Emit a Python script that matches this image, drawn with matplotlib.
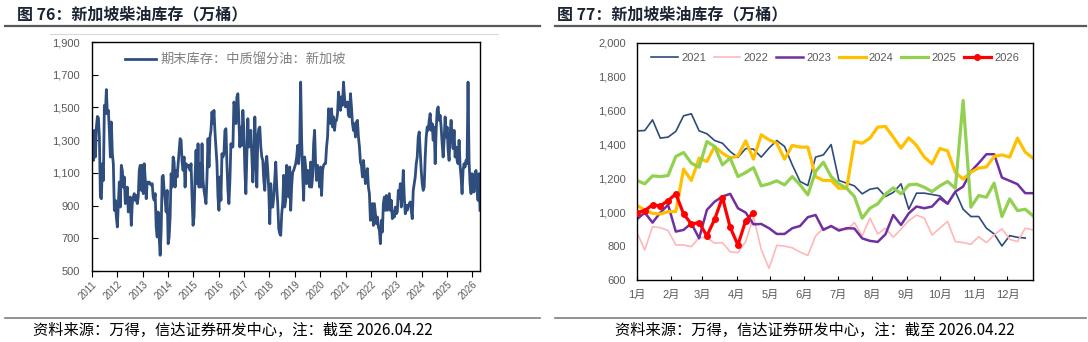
import numpy as np
import pandas as pd
import matplotlib
matplotlib.use('Agg')
import matplotlib.pyplot as plt
from matplotlib.lines import Line2D
import matplotlib.dates as mdates
from matplotlib.ticker import FuncFormatter

plt.rcParams['font.family'] = ['Liberation Sans', 'Noto Sans CJK SC', 'DejaVu Sans']

# ---- left chart: Singapore middle distillate stocks (biweekly samples)
sg_stock = [
    1299, 1176, 1360, 1197, 1380, 1445, 1437, 1319, 952, 942, 1156, 1054, 1513, 1462, 1609, 1462,
    1482, 1360, 1197, 1411, 1217, 1156, 871, 932, 830, 769, 912, 1044, 891, 1146, 1115, 1013,
    1075, 912, 952, 1013, 861, 932, 952, 779, 912, 952, 973, 932, 962, 912, 952, 1115,
    1146, 993, 1146, 973, 1156, 1064, 942, 1044, 1034, 1044, 1034, 1024, 1034, 952, 932, 973,
    769, 708, 861, 708, 596, 749, 1075, 1085, 993, 932, 861, 993, 667, 708, 830, 1095,
    1013, 1197, 1166, 1013, 1115, 1075, 1156, 1238, 1309, 1299, 1166, 1115, 1197, 1013, 1156, 1146,
    1136, 1146, 1115, 1156, 952, 779, 830, 1075, 1238, 1034, 1278, 1013, 1156, 1013, 1278, 1054,
    993, 952, 912, 1075, 1309, 1136, 1319, 1360, 1472, 1401, 1482, 1350, 1258, 1156, 952, 871,
    1075, 932, 1217, 1197, 1217, 1360, 1370, 1156, 993, 912, 1054, 1278, 1258, 1258, 1533, 1503,
    1401, 1564, 1584, 1421, 1258, 1380, 1268, 1482, 1360, 1115, 973, 1197, 1431, 1258, 1299, 1360,
    1197, 1044, 1156, 1442, 1238, 1013, 1319, 1370,
    1380, 1258, 1197, 1176, 1054, 993, 1156, 1201, 1115, 993, 789, 1034, 891, 891, 952, 1054,
    1166, 1013, 912, 759, 728, 718, 850, 912, 1085, 891, 932, 1146, 1003, 952, 1136, 871,
    1024, 1105, 1115, 1136, 1156, 1197, 1268, 1156, 1238, 1655, 1299, 1095, 932, 1197, 1136, 1034,
    1115, 1075, 1013, 1166, 1013, 1075, 1278, 1360, 1156, 1054, 1146, 1095, 1013, 1136, 962, 1115,
    1146, 1156, 1156, 1258, 1319, 1492, 1452, 1401, 1492, 1380, 1442, 1360, 1421, 1421, 1462, 1594,
    1543, 1482, 1564, 1513, 1655, 1564, 1503, 1523, 1533, 1452, 1442, 1584, 1503, 1401, 1360, 1401,
    1319, 1411, 1421, 1319, 1258, 1166, 1146, 1075, 1176, 1115, 1034, 1075, 1126, 1013, 973, 810,
    861, 912, 779, 912, 850, 789, 830, 769, 749, 667, 810, 738, 912, 952, 871, 962,
    871, 922, 973, 871, 932, 820, 861, 830, 891, 850, 861, 993, 942, 1034, 891, 973,
    1115, 952, 850, 901, 871, 901, 912, 922, 871, 820, 993, 1034, 1075, 1156, 1197, 1319,
    1350, 1238, 1115, 1034, 993, 1013, 1197, 1319, 1380, 1360, 1421, 1462, 1360, 1401, 1299, 1380,
    1156, 1360, 1482, 1503, 1421, 1452, 1380, 1278, 1197, 1299, 1442, 1319, 1380, 1238, 1176, 1340,
    1421, 1319, 1248, 1360, 1197, 1258, 1176, 1156, 1299, 1146, 1075, 973, 1115, 1156, 1136, 1176,
    1156, 1655, 1176, 1034, 973, 1095, 1044, 983, 1095, 1115, 1013, 932, 1095, 871,
]
sg_start, sg_end = '2011-01-07', '2026-04-22'
sg_label = '期末库存：中质馏分油：新加坡'

# ---- right chart: weekly stocks by year
s2021 = [1481, 1483, 1546, 1438, 1444, 1478, 1570, 1582, 1481, 1464, 1424, 1408, 1359, 1324, 1377, 1373,
         1326, 1379, 1424, 1389, 1280, 1182, 1158, 1326, 1339, 1400, 1188, 1172, 1156, 1109, 1136, 1144,
         1093, 1117, 1168, 1018, 1113, 1113, 1105, 1097, 1053, 1122, 1018, 975, 975, 906, 872, 801,
         862, 852, 848]
s2022 = [880, 777, 915, 909, 892, 807, 807, 797, 850, 852, 817, 821, 767, 762, 827, 975,
         780, 669, 805, 800, 790, 765, 745, 860, 905, 915, 905, 896, 939, 860, 966, 872,
         906, 852, 900, 951, 983, 966, 866, 906, 946, 827, 821, 811, 856, 821, 866, 902,
         840, 827, 906, 896]
s2023 = [959, 998, 939, 998, 1044, 886, 896, 935, 846, 1014, 1063, 1093, 1109, 1024, 998, 929,
         931, 906, 872, 872, 906, 919, 971, 984, 896, 919, 892, 906, 904, 846, 831, 825,
         870, 984, 925, 994, 1034, 1024, 1034, 1083, 1050, 1122, 1152, 1241, 1290, 1343, 1343, 1205,
         1186, 1166, 1113, 1113]
s2024 = [1040, 1014, 994, 990, 1004, 1004, 1255, 1188, 1320, 1300, 1389, 1349, 1320, 1333, 1422, 1314,
         1458, 1428, 1408, 1314, 1395, 1385, 1385, 1211, 1188, 1188, 1142, 1142, 1418, 1408, 1438, 1503,
         1507, 1444, 1379, 1440, 1395, 1326, 1286, 1377, 1363, 1235, 1196, 1237, 1261, 1268, 1330, 1339,
         1326, 1438, 1355, 1320]
s2025 = [1188, 1168, 1215, 1211, 1217, 1330, 1353, 1290, 1266, 1418, 1389, 1280, 1320, 1211, 1235, 1264,
         1156, 1168, 1186, 1162, 1211, 1162, 1103, 1241, 1296, 1211, 1168, 1142, 1093, 965, 1024, 1050,
         1107, 1144, 1109, 1162, 1166, 1148, 1122, 1156, 1182, 1142, 1661, 1030, 1099, 1089, 1172, 975,
         1079, 1010, 1018, 979]
s2026 = [998, 1010, 1044, 1038, 1069, 1109, 990, 931, 939, 860, 959, 1087, 911, 807, 951, 998]

years = ['2021', '2022', '2023', '2024', '2025', '2026']
series = [s2021, s2022, s2023, s2024, s2025, s2026]
colors = ['#2F4B7C', '#FFB7B7', '#7030A0', '#FFC000', '#92D050', '#FF0000']
widths = [1.2, 1.2, 1.8, 2.3, 2.3, 2.3]

month_labels = ['1月', '2月', '3月', '4月', '5月', '6月', '7月', '8月', '9月', '10月', '11月', '12月']
month_days = [0, 31, 59, 90, 120, 151, 181, 212, 243, 273, 304, 334]

W, H = 1088, 342
fig = plt.figure(figsize=(W / 100, H / 100), dpi=100)


def box(x0, y0, x1, y1):
    return [x0 / W, 1 - y1 / H, (x1 - x0) / W, (y1 - y0) / H]


def hline(x0, x1, y, color, lw):
    fig.add_artist(Line2D([x0 / W, x1 / W], [1 - y / H, 1 - y / H], color=color, lw=lw,
                          transform=fig.transFigure))


comma = FuncFormatter(lambda v, p: f'{int(v):,}')
tick_color = '#595959'

# titles, rules, source lines
title_kw = dict(fontsize=11.5, fontweight='bold', color='#1B2433', va='center', ha='left',
                family=['Noto Sans CJK SC', 'DejaVu Sans'])
fig.text(17 / W, 1 - 14 / H, '图 76：新加坡柴油库存（万桶）', **title_kw)
fig.text(557 / W, 1 - 14 / H, '图 77：新加坡柴油库存（万桶）', **title_kw)
hline(5, 540, 25.5, '#595959', 1.6)
hline(555, 1086, 25.5, '#595959', 1.6)
hline(50, 498, 34, '#D9D9D9', 0.8)
hline(5, 540, 318, '#7F7F7F', 1.2)
hline(555, 1086, 318, '#7F7F7F', 1.2)
src_kw = dict(fontsize=11, style='italic', color='#000000', va='center', ha='left',
              family=['Noto Sans CJK SC', 'DejaVu Sans'])
fig.text(33 / W, 1 - 330 / H, '资料来源：万得，信达证券研发中心，注：截至 2026.04.22', **src_kw)
fig.text(615 / W, 1 - 330 / H, '资料来源：万得，信达证券研发中心，注：截至 2026.04.22', **src_kw)

# ---- left chart
ax1 = fig.add_axes(box(92, 42, 480, 271))
dates = pd.date_range(sg_start, sg_end, periods=len(sg_stock))
ax1.plot(dates, sg_stock, color='#2F4E7E', lw=2.0, label=sg_label)
ax1.set_ylim(500, 1900)
ax1.set_yticks(np.arange(500, 1901, 200))
ax1.yaxis.set_major_formatter(comma)
ax1.set_xlim(pd.Timestamp('2011-01-01'), pd.Timestamp('2026-04-22'))
ax1.xaxis.set_major_locator(mdates.YearLocator())
ax1.xaxis.set_major_formatter(mdates.DateFormatter('%Y'))
ax1.tick_params(axis='y', direction='in', length=4, labelsize=8, labelcolor=tick_color, pad=9, width=0.8)
ax1.tick_params(axis='x', direction='out', length=4, labelsize=7, labelcolor=tick_color, pad=2, width=0.8)
for lab in ax1.get_xticklabels():
    lab.set_rotation(45)
    lab.set_ha('right')
    lab.set_rotation_mode('anchor')
for sp in ax1.spines.values():
    sp.set_color('#000000')
    sp.set_linewidth(1.0)
leg1 = ax1.legend(loc='upper left', bbox_to_anchor=(0.055, 1.0), frameon=False, handlelength=2.3,
                  handletextpad=0.4,
                  prop={'family': ['Noto Sans CJK SC', 'DejaVu Sans'], 'size': 9.5})
for t in leg1.get_texts():
    t.set_color('#7F7F7F')

# ---- right chart
ax2 = fig.add_axes(box(637, 43, 1033, 280))
for name, vals, c, lw in zip(years, series, colors, widths):
    days = np.arange(len(vals)) * 7
    if name == '2026':
        ax2.plot(days, vals, color=c, lw=lw, marker='o', markersize=4, label=name, zorder=5)
    else:
        ax2.plot(days, vals, color=c, lw=lw, label=name)
ax2.set_xlim(0, 357)
ax2.set_ylim(600, 2000)
ax2.set_yticks(np.arange(600, 2001, 200))
ax2.yaxis.set_major_formatter(comma)
ax2.set_xticks(month_days)
ax2.set_xticklabels(month_labels)
ax2.tick_params(axis='y', length=0, labelsize=8, labelcolor=tick_color, pad=8)
ax2.tick_params(axis='x', direction='in', length=3, labelsize=8, labelcolor=tick_color, pad=7, width=0.8)
for sp in ax2.spines.values():
    sp.set_color('#000000')
    sp.set_linewidth(1.0)
leg2 = ax2.legend(loc='upper left', bbox_to_anchor=(0.01, 1.0), ncol=6, frameon=False, handlelength=2.4,
                  columnspacing=0.7, handletextpad=0.3, prop={'size': 8})
for t in leg2.get_texts():
    t.set_color(tick_color)

fig.savefig('out.png', dpi=100)
